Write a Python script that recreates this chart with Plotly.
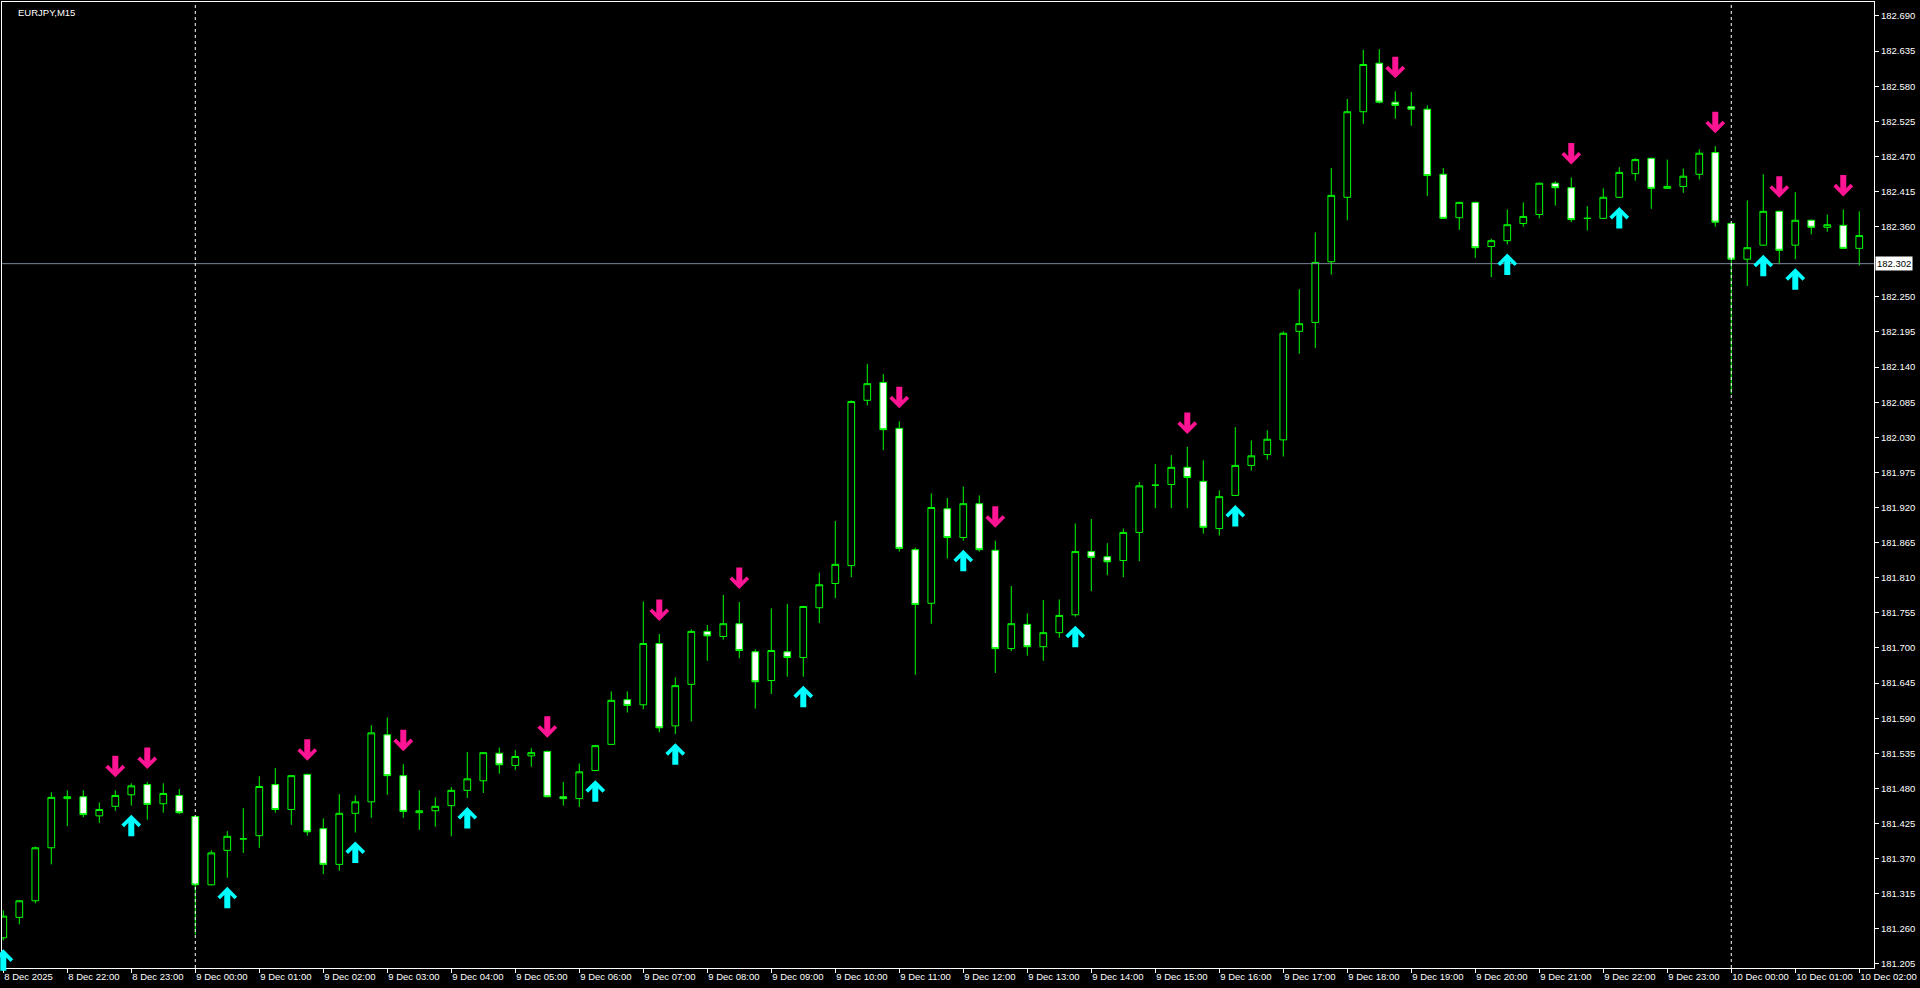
import pandas as pd
import plotly.graph_objects as go

# EURJPY M15 bars, first bar 8 Dec 2025 21:00
symbol_title = "EURJPY,M15"
first_bar = "2025-12-08 21:00"

opens = [181.246, 181.278, 181.304, 181.387, 181.464, 181.467, 181.437, 181.452, 181.470, 181.486,
         181.456, 181.469, 181.436, 181.329, 181.383, 181.401, 181.406, 181.486, 181.447, 181.502,
         181.417, 181.361, 181.441, 181.459, 181.564, 181.500, 181.442, 181.445, 181.453, 181.477,
         181.492, 181.535, 181.516, 181.531, 181.538, 181.467, 181.464, 181.508, 181.549, 181.619,
         181.611, 181.707, 181.578, 181.643, 181.726, 181.718, 181.738, 181.694, 181.649, 181.694,
         181.685, 181.763, 181.801, 181.829, 182.088, 182.116, 182.044, 181.854, 181.770, 181.918,
         181.873, 181.926, 181.853, 181.699, 181.737, 181.702, 181.724, 181.752, 181.851, 181.843,
         181.837, 181.881, 181.955, 181.956, 181.983, 181.961, 181.887, 181.939, 181.986, 182.003,
         182.026, 182.196, 182.210, 182.305, 182.406, 182.540, 182.616, 182.555, 182.548, 182.544,
         182.442, 182.374, 182.398, 182.329, 182.338, 182.365, 182.379, 182.428, 182.421, 182.373,
         182.373, 182.406, 182.443, 182.467, 182.420, 182.423, 182.442, 182.476, 182.365, 182.309,
         182.331, 182.384, 182.331, 182.370, 182.359, 182.362, 182.326]
highs = [181.289, 181.305, 181.389, 181.474, 181.477, 181.477, 181.458, 181.477, 181.488, 181.490,
         181.488, 181.479, 181.437, 181.383, 181.413, 181.449, 181.499, 181.512, 181.501, 181.503,
         181.433, 181.471, 181.469, 181.579, 181.591, 181.518, 181.477, 181.466, 181.482, 181.537,
         181.537, 181.544, 181.540, 181.543, 181.539, 181.490, 181.519, 181.548, 181.632, 181.632,
         181.773, 181.722, 181.654, 181.729, 181.736, 181.783, 181.772, 181.698, 181.762, 181.769,
         181.766, 181.818, 181.899, 182.088, 182.145, 182.129, 182.055, 181.857, 181.942, 181.935,
         181.953, 181.939, 181.868, 181.797, 181.754, 181.775, 181.776, 181.895, 181.902, 181.864,
         181.887, 181.960, 181.988, 182.002, 182.015, 181.994, 181.947, 182.046, 182.025, 182.041,
         182.196, 182.262, 182.351, 182.452, 182.560, 182.637, 182.638, 182.572, 182.571, 182.550,
         182.452, 182.399, 182.399, 182.341, 182.387, 182.398, 182.429, 182.431, 182.437, 182.392,
         182.420, 182.453, 182.467, 182.468, 182.465, 182.451, 182.481, 182.486, 182.366, 182.401,
         182.442, 182.385, 182.414, 182.371, 182.379, 182.387, 182.384]
lows = [181.242, 181.267, 181.300, 181.361, 181.421, 181.435, 181.426, 181.445, 181.453, 181.431,
        181.442, 181.440, 181.251, 181.328, 181.340, 181.379, 181.387, 181.442, 181.423, 181.406,
        181.346, 181.351, 181.411, 181.434, 181.470, 181.434, 181.415, 181.420, 181.405, 181.465,
        181.473, 181.503, 181.509, 181.514, 181.466, 181.453, 181.451, 181.507, 181.548, 181.599,
        181.604, 181.568, 181.565, 181.585, 181.680, 181.713, 181.684, 181.605, 181.628, 181.655,
        181.655, 181.739, 181.778, 181.811, 182.080, 182.010, 181.851, 181.658, 181.738, 181.840,
        181.868, 181.851, 181.661, 181.695, 181.688, 181.680, 181.716, 181.749, 181.789, 181.814,
        181.811, 181.836, 181.919, 181.919, 181.919, 181.879, 181.876, 181.938, 181.978, 181.995,
        182.000, 182.161, 182.170, 182.285, 182.370, 182.521, 182.553, 182.529, 182.518, 182.408,
        182.372, 182.355, 182.311, 182.281, 182.332, 182.360, 182.373, 182.393, 182.367, 182.354,
        182.372, 182.405, 182.432, 182.388, 182.419, 182.413, 182.434, 182.360, 182.098, 182.267,
        182.330, 182.301, 182.309, 182.348, 182.352, 182.325, 182.299]
closes = [181.280, 181.304, 181.387, 181.466, 181.467, 181.439, 181.447, 181.469, 181.484, 181.455,
          181.472, 181.442, 181.329, 181.379, 181.405, 181.401, 181.483, 181.447, 181.500, 181.412,
          181.361, 181.441, 181.459, 181.567, 181.500, 181.444, 181.445, 181.452, 181.477, 181.495,
          181.536, 181.517, 181.530, 181.536, 181.467, 181.464, 181.506, 181.547, 181.618, 181.610,
          181.707, 181.575, 181.641, 181.726, 181.719, 181.738, 181.696, 181.647, 181.696, 181.685,
          181.765, 181.799, 181.831, 182.086, 182.114, 182.042, 181.856, 181.768, 181.920, 181.873,
          181.926, 181.854, 181.699, 181.738, 181.702, 181.724, 181.751, 181.851, 181.842, 181.835,
          181.881, 181.954, 181.955, 181.983, 181.967, 181.889, 181.937, 181.986, 182.001, 182.027,
          182.193, 182.208, 182.304, 182.409, 182.540, 182.614, 182.555, 182.550, 182.544, 182.440,
          182.373, 182.398, 182.327, 182.338, 182.363, 182.376, 182.428, 182.421, 182.371, 182.373,
          182.406, 182.445, 182.465, 182.420, 182.423, 182.439, 182.475, 182.367, 182.309, 182.327,
          182.384, 182.323, 182.370, 182.359, 182.363, 182.326, 182.346]

# indicator signals (bar numbers)
sell_arrow_bars = [7, 9, 19, 25, 34, 41, 46, 56, 62, 74, 87, 98, 107, 111, 115]
buy_arrow_bars = [0, 8, 14, 22, 29, 37, 42, 50, 60, 67, 77, 94, 101, 110, 112]

bid_price = 182.302

price_ticks = [182.690, 182.635, 182.580, 182.525, 182.470, 182.415, 182.360, 182.250, 182.195,
               182.140, 182.085, 182.030, 181.975, 181.920, 181.865, 181.810, 181.755, 181.700,
               181.645, 181.590, 181.535, 181.480, 181.425, 181.370, 181.315, 181.260, 181.205]

time_labels = ["8 Dec 2025", "8 Dec 22:00", "8 Dec 23:00", "9 Dec 00:00", "9 Dec 01:00",
               "9 Dec 02:00", "9 Dec 03:00", "9 Dec 04:00", "9 Dec 05:00", "9 Dec 06:00",
               "9 Dec 07:00", "9 Dec 08:00", "9 Dec 09:00", "9 Dec 10:00", "9 Dec 11:00",
               "9 Dec 12:00", "9 Dec 13:00", "9 Dec 14:00", "9 Dec 15:00", "9 Dec 16:00",
               "9 Dec 17:00", "9 Dec 18:00", "9 Dec 19:00", "9 Dec 20:00", "9 Dec 21:00",
               "9 Dec 22:00", "9 Dec 23:00", "10 Dec 00:00", "10 Dec 01:00", "10 Dec 02:00"]

times = pd.date_range(first_bar, periods=len(opens), freq="15min")
bar = pd.Timedelta(minutes=15)

FONT = "Liberation Sans, Arial, sans-serif"
LIME = "#00FF00"

fig = go.Figure()

fig.add_trace(go.Candlestick(
    x=times, open=opens, high=highs, low=lows, close=closes,
    increasing=dict(line=dict(color=LIME, width=1), fillcolor="black"),
    decreasing=dict(line=dict(color=LIME, width=1), fillcolor="white"),
    whiskerwidth=0, hoverinfo="skip",
))

# bid line + price label
fig.add_shape(type="line", xref="paper", x0=0, x1=1, yref="y", y0=bid_price, y1=bid_price,
              line=dict(color="#778899", width=1))
fig.add_annotation(xref="paper", x=1, xanchor="left", xshift=1, yref="y", y=bid_price,
                   text=f"{bid_price:.3f}", showarrow=False, bgcolor="white", borderpad=1,
                   font=dict(family=FONT, size=9.5, color="black"))

# day separators
for t in times:
    if t.hour == 0 and t.minute == 0:
        fig.add_shape(type="line", xref="x", x0=t, x1=t, yref="paper", y0=0, y1=1,
                      line=dict(color="white", width=1, dash="3px,3px"))

# signal arrows
for i in sell_arrow_bars:
    fig.add_annotation(x=times[i], y=highs[i], xref="x", yref="y", text="", showarrow=True,
                       arrowhead=4, arrowsize=0.55, arrowwidth=6, arrowcolor="#FF1493",
                       ax=0, ay=-36, standoff=13)
for i in buy_arrow_bars:
    fig.add_annotation(x=times[i], y=lows[i], xref="x", yref="y", text="", showarrow=True,
                       arrowhead=4, arrowsize=0.55, arrowwidth=6, arrowcolor="#00FFFF",
                       ax=0, ay=32, standoff=9)

fig.add_annotation(xref="paper", yref="paper", x=0, y=1, xanchor="left", yanchor="top",
                   xshift=14, yshift=-3, text=symbol_title, showarrow=False,
                   font=dict(family=FONT, size=9.5, color="white"))

fig.update_xaxes(
    range=[times[0] - 0.081 * bar, times[0] + 116.92 * bar],
    tickvals=list(times[::4]), ticktext=time_labels, tickangle=0, automargin=False,
    ticks="outside", ticklen=4, tickcolor="white", ticklabelposition="outside right",
    showline=True, linecolor="white", linewidth=1, mirror=True,
    showgrid=False, zeroline=False, rangeslider=dict(visible=False),
    tickfont=dict(family=FONT, size=9.5, color="white"),
)
fig.update_yaxes(
    side="right", range=[181.1987, 182.7119], automargin=False,
    tickvals=price_ticks, ticktext=[f"{p:.3f}" for p in price_ticks],
    ticks="outside", ticklen=4, tickcolor="white",
    showline=True, linecolor="white", linewidth=1, mirror=True,
    showgrid=False, zeroline=False,
    tickfont=dict(family=FONT, size=9.5, color="white"),
)

fig.update_layout(
    width=1920, height=988,
    margin=dict(l=2, r=46, t=2, b=20),
    paper_bgcolor="black", plot_bgcolor="black",
    showlegend=False, hovermode=False, boxgap=0.4,
)

fig.write_html("out.html", config={"displayModeBar": False},
               post_script="document.body.style.margin='0';document.body.style.overflow='hidden';")
